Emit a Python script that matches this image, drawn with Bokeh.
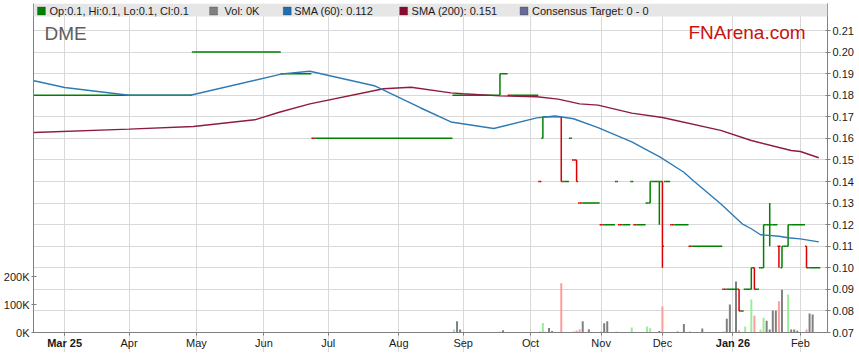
import numpy as np
from bokeh.plotting import figure
from bokeh.models import (Range1d, LinearAxis, FixedTicker, Label, BoxAnnotation,
                          ColumnDataSource, NumeralTickFormatter)
from bokeh.embed import file_html
from bokeh.resources import INLINE

# ---------------------------------------------------------------- data
stock_code = "DME"
brand_text = "FNArena.com"
legend_texts = ["Op:0.1, Hi:0.1, Lo:0.1, Cl:0.1", "Vol: 0K", "SMA (60): 0.112",
                "SMA (200): 0.151", "Consensus Target: 0 - 0"]

month_tick_dates = ["2025-03-03", "2025-04-01", "2025-05-01", "2025-06-02", "2025-07-01",
                    "2025-08-01", "2025-09-01", "2025-10-01", "2025-11-03", "2025-12-01",
                    "2026-01-01", "2026-02-02"]
month_tick_labels = ["Mar 25", "Apr", "May", "Jun", "Jul", "Aug", "Sep", "Oct", "Nov", "Dec",
                     "Jan 26", "Feb"]
bold_tick_labels = ["Mar 25", "Jan 26"]
price_ticks = [0.07, 0.08, 0.09, 0.10, 0.11, 0.12, 0.13, 0.14, 0.15, 0.16, 0.17, 0.18,
               0.19, 0.20, 0.21]
volume_ticks = [0, 100000, 200000]
volume_tick_labels = ["0K", "100K", "200K"]

# price blocks: one OHLC bar on blk_start, then flat at close until blk_end
blk_start = ["2025-02-17", "2025-04-30", "2025-06-10", "2025-06-11", "2025-06-24", "2025-06-25",
             "2025-08-27", "2025-09-17", "2025-09-18", "2025-09-22", "2025-09-23", "2025-10-06",
             "2025-10-07", "2025-10-08", "2025-10-15", "2025-10-16", "2025-10-20", "2025-10-21",
             "2025-10-22", "2025-10-23", "2025-10-24", "2025-11-03", "2025-11-04", "2025-11-10",
             "2025-11-11", "2025-11-12", "2025-11-17", "2025-11-18", "2025-11-19", "2025-11-24",
             "2025-11-25", "2025-11-26", "2025-11-28", "2025-12-01", "2025-12-02", "2025-12-04",
             "2025-12-05", "2025-12-12", "2025-12-15", "2025-12-29", "2025-12-30", "2026-01-05",
             "2026-01-06", "2026-01-07", "2026-01-09", "2026-01-12", "2026-01-13", "2026-01-14",
             "2026-01-15", "2026-01-16", "2026-01-19", "2026-01-20", "2026-01-22", "2026-01-23",
             "2026-01-26", "2026-01-27", "2026-01-28", "2026-02-04", "2026-02-05"]
blk_end = ["2025-04-29", "2025-06-09", "2025-06-10", "2025-06-23", "2025-06-24", "2025-08-26",
           "2025-09-16", "2025-09-17", "2025-09-19", "2025-09-22", "2025-10-03", "2025-10-06",
           "2025-10-07", "2025-10-14", "2025-10-15", "2025-10-17", "2025-10-20", "2025-10-21",
           "2025-10-22", "2025-10-23", "2025-10-31", "2025-11-03", "2025-11-07", "2025-11-10",
           "2025-11-11", "2025-11-14", "2025-11-17", "2025-11-18", "2025-11-21", "2025-11-24",
           "2025-11-25", "2025-11-27", "2025-11-28", "2025-12-01", "2025-12-03", "2025-12-04",
           "2025-12-11", "2025-12-12", "2025-12-26", "2025-12-29", "2026-01-02", "2026-01-05",
           "2026-01-06", "2026-01-08", "2026-01-09", "2026-01-12", "2026-01-13", "2026-01-14",
           "2026-01-15", "2026-01-16", "2026-01-19", "2026-01-21", "2026-01-22", "2026-01-23",
           "2026-01-26", "2026-01-27", "2026-02-03", "2026-02-04", "2026-02-10"]
blk_open = [0.18, 0.20, 0.19, 0.19, 0.16, 0.16, 0.18, 0.18, 0.19, 0.18, 0.18, 0.14,
            0.16, 0.17, 0.17, 0.14, 0.16, 0.15, 0.15, 0.13, 0.13, 0.12, 0.12, 0.14,
            0.12, 0.12, 0.14, 0.12, 0.12, 0.13, 0.13, 0.14, 0.14, 0.14, 0.14, 0.12,
            0.12, 0.11, 0.11, 0.09, 0.09, 0.09, 0.08, 0.09, 0.09, 0.10, 0.09, 0.10,
            0.10, 0.12, 0.12, 0.12, 0.11, 0.10, 0.11, 0.11, 0.12, 0.11, 0.10]
blk_high = [0.18, 0.20, 0.19, 0.19, 0.16, 0.16, 0.18, 0.19, 0.19, 0.18, 0.18, 0.14,
            0.17, 0.17, 0.17, 0.14, 0.16, 0.15, 0.15, 0.13, 0.13, 0.12, 0.12, 0.14,
            0.12, 0.12, 0.14, 0.12, 0.12, 0.13, 0.14, 0.14, 0.14, 0.14, 0.14, 0.12,
            0.12, 0.11, 0.11, 0.09, 0.09, 0.09, 0.08, 0.09, 0.10, 0.10, 0.09, 0.10,
            0.12, 0.12, 0.13, 0.12, 0.11, 0.11, 0.11, 0.12, 0.12, 0.11, 0.10]
blk_low = [0.18, 0.20, 0.19, 0.19, 0.16, 0.16, 0.18, 0.18, 0.19, 0.18, 0.18, 0.14,
           0.16, 0.17, 0.14, 0.14, 0.16, 0.15, 0.14, 0.13, 0.13, 0.12, 0.12, 0.14,
           0.12, 0.12, 0.14, 0.12, 0.12, 0.13, 0.13, 0.14, 0.12, 0.10, 0.14, 0.12,
           0.12, 0.11, 0.11, 0.09, 0.09, 0.08, 0.08, 0.09, 0.09, 0.09, 0.09, 0.10,
           0.10, 0.12, 0.11, 0.12, 0.10, 0.10, 0.11, 0.11, 0.12, 0.10, 0.10]
blk_close = [0.18, 0.20, 0.19, 0.19, 0.16, 0.16, 0.18, 0.19, 0.19, 0.18, 0.18, 0.14,
             0.17, 0.17, 0.14, 0.14, 0.16, 0.15, 0.14, 0.13, 0.13, 0.12, 0.12, 0.14,
             0.12, 0.12, 0.14, 0.12, 0.12, 0.13, 0.14, 0.14, 0.14, 0.11, 0.14, 0.12,
             0.12, 0.11, 0.11, 0.09, 0.09, 0.08, 0.08, 0.09, 0.10, 0.09, 0.09, 0.10,
             0.12, 0.12, 0.12, 0.12, 0.11, 0.11, 0.11, 0.12, 0.12, 0.10, 0.10]

vol_date = ["2025-05-08", "2025-05-13", "2025-07-07", "2025-08-27", "2025-08-28", "2025-08-29",
            "2025-09-17", "2025-09-18", "2025-10-06", "2025-10-07", "2025-10-09", "2025-10-10",
            "2025-10-15", "2025-10-21", "2025-10-22", "2025-10-23", "2025-10-24", "2025-10-28",
            "2025-11-03", "2025-11-04", "2025-11-05", "2025-11-10", "2025-11-17", "2025-11-24",
            "2025-11-25", "2025-11-28", "2025-12-01", "2025-12-08", "2025-12-10", "2025-12-12",
            "2025-12-18", "2025-12-29", "2025-12-30", "2025-12-31", "2026-01-02", "2026-01-05",
            "2026-01-07", "2026-01-09", "2026-01-12", "2026-01-14", "2026-01-15", "2026-01-16",
            "2026-01-19", "2026-01-20", "2026-01-21", "2026-01-22", "2026-01-23", "2026-01-27",
            "2026-01-28", "2026-01-29", "2026-01-30", "2026-02-04", "2026-02-05", "2026-02-06"]
vol_value = [2000, 2000, 2000, 11000, 40000, 11000, 4000, 8000, 4000, 34000, 16000, 5000,
             176000, 4000, 7000, 12000, 40000, 12000, 4000, 33000, 40000, 4000, 18000, 21000,
             15000, 5000, 93000, 4000, 30000, 4000, 14000, 4000, 49000, 100000, 182000, 8000,
             21000, 118000, 60000, 11000, 53000, 42000, 11000, 79000, 79000, 112000, 153000,
             136000, 11000, 11000, 6000, 11000, 68000, 64000]
vol_dir = ["flat", "flat", "flat", "up", "flat", "flat", "up", "flat", "down", "up", "flat",
           "flat", "down", "down", "down", "down", "flat", "flat", "down", "flat", "flat", "up",
           "up", "up", "up", "flat", "down", "flat", "flat", "down", "flat", "down", "flat",
           "flat", "flat", "down", "up", "up", "down", "up", "up", "flat", "flat", "flat",
           "flat", "down", "flat", "up", "flat", "flat", "flat", "down", "flat", "flat"]

sma60_date = ["2025-02-17", "2025-03-03", "2025-04-01", "2025-04-29", "2025-06-10", "2025-06-23",
              "2025-07-22", "2025-08-12", "2025-08-26", "2025-09-15", "2025-10-03", "2025-10-13",
              "2025-10-21", "2025-10-31", "2025-11-17", "2025-11-24", "2025-11-28", "2025-12-10",
              "2025-12-15", "2025-12-26", "2026-01-06", "2026-01-09", "2026-01-14", "2026-01-22",
              "2026-01-27", "2026-02-02", "2026-02-10"]
sma60_value = [0.1867, 0.1836, 0.1800, 0.1800, 0.1899, 0.1911, 0.1844, 0.1742, 0.1676, 0.1646,
               0.1695, 0.1704, 0.1691, 0.1650, 0.1584, 0.1546, 0.1515, 0.1443, 0.1405, 0.1297,
               0.1204, 0.1181, 0.1153, 0.1146, 0.1139, 0.1134, 0.1120]

sma200_date = ["2025-02-17", "2025-04-01", "2025-04-30", "2025-05-28", "2025-06-09", "2025-06-23",
               "2025-07-25", "2025-08-07", "2025-08-26", "2025-09-01", "2025-09-17", "2025-10-03",
               "2025-10-14", "2025-10-23", "2025-10-31", "2025-11-17", "2025-12-01", "2025-12-26",
               "2026-01-09", "2026-01-28", "2026-02-02", "2026-02-10"]
sma200_value = [0.1627, 0.1643, 0.1655, 0.1686, 0.1721, 0.1760, 0.1830, 0.1837, 0.1811, 0.1807,
                0.1797, 0.1793, 0.1782, 0.1760, 0.1754, 0.1717, 0.1697, 0.1637, 0.1590, 0.1544,
                0.1539, 0.1510]

# ---------------------------------------------------------------- layout / style
X_ORIGIN = "2025-03-03"          # trading-day axis origin (weekday count)
W, H = 856, 360
BL, BR, BT, BB = 31, 27, 3, 8    # frame reaches below the price baseline to hold x labels
FL, FR = BL, W - BR
FT, FBF = BT, H - BB             # frame top / frame bottom (page px)
BASE_Y = 332                     # page y of the 0.07 / 0K baseline
PX_PER_DAY = 3.081
FIRST_TICK_X = 62.3
PX_PER_PRICE = 2157.0
PX_PER_100K = 28.0

P0 = price_ticks[0]
X_START = -(FIRST_TICK_X - FL) / PX_PER_DAY
X_END = X_START + (FR - FL) / PX_PER_DAY
Y_START = P0 - (FBF - BASE_Y) / PX_PER_PRICE
Y_END = P0 + (BASE_Y - FT) / PX_PER_PRICE
VOL_START = -(FBF - BASE_Y) / PX_PER_100K * 100000
VOL_END = (BASE_Y - FT) / PX_PER_100K * 100000

GREEN, RED = "#008000", "#dd0000"
VOL_COL = {"up": "#98ee98", "down": "#ff9c9c", "flat": "#808080"}
SMA60_COL, SMA200_COL = "#2c7bb6", "#8c1d40"
FONT = "Liberation Sans"
TXT = "#1a1a1a"
AXIS_COL = "#808080"


def tday(dates):
    return np.busday_count(np.datetime64(X_ORIGIN),
                           np.array(dates, dtype="datetime64[D]")).astype(float)


def px_x(page_x):
    return X_START + (page_x - FL) / PX_PER_DAY


def px_y(page_y):
    return P0 + (BASE_Y - page_y) / PX_PER_PRICE


p = figure(width=W, height=H, output_backend="svg", toolbar_location=None,
           x_range=Range1d(X_START, X_END), y_range=Range1d(Y_START, Y_END),
           y_axis_location="right", min_border_left=BL, min_border_right=BR,
           min_border_top=BT, min_border_bottom=BB,
           background_fill_color="white", border_fill_color="white")
p.outline_line_color = None
p.extra_y_ranges = {"vol": Range1d(VOL_START, VOL_END)}

# grids
tick_x = [int(t) for t in tday(month_tick_dates)]
p.xgrid.ticker = FixedTicker(ticks=tick_x, minor_ticks=[])
p.xgrid.bounds = (P0, Y_END)
p.ygrid.ticker = FixedTicker(ticks=price_ticks, minor_ticks=[])
for g in (p.xgrid, p.ygrid):
    g.grid_line_color = "#d9d9d9"
    g.grid_line_width = 1

# x axis (regular month labels), pinned at the price baseline
xa = p.xaxis[0]
xa.ticker = FixedTicker(ticks=tick_x, minor_ticks=[])
xa.major_label_overrides = {t: ("" if lab in bold_tick_labels else lab)
                            for t, lab in zip(tick_x, month_tick_labels)}
xa.fixed_location = P0

# second x axis with the bold year labels
bold_ticks = [t for t, lab in zip(tick_x, month_tick_labels) if lab in bold_tick_labels]
xb = LinearAxis(ticker=FixedTicker(ticks=bold_ticks, minor_ticks=[]),
                major_label_overrides={t: lab for t, lab in zip(tick_x, month_tick_labels)
                                       if lab in bold_tick_labels},
                fixed_location=P0)
xb.axis_line_color = None
xb.major_label_text_font_style = "bold"
p.add_layout(xb, "below")

for ax in (xa, xb):
    ax.major_tick_out = 3
    ax.major_tick_in = 0
    ax.major_label_standoff = 1

# right price axis
ya = p.yaxis[0]
ya.ticker = FixedTicker(ticks=price_ticks, minor_ticks=[])
ya.formatter = NumeralTickFormatter(format="0.00")
ya.bounds = (P0, Y_END)
ya.major_tick_out = 3
ya.major_tick_in = 2
ya.major_label_standoff = 2

# left volume axis
va = LinearAxis(y_range_name="vol", ticker=FixedTicker(ticks=volume_ticks, minor_ticks=[]),
                major_label_overrides=dict(zip(volume_ticks, volume_tick_labels)),
                bounds=(0, VOL_END))
va.major_tick_out = 2
va.major_tick_in = 3
va.major_label_standoff = 2
p.add_layout(va, "left")

for ax in (xa, xb, ya, va):
    ax.minor_tick_line_color = None
    ax.major_label_text_font = FONT
    ax.major_label_text_font_size = "11px"
    ax.major_label_text_color = TXT
    ax.major_tick_line_color = AXIS_COL
for ax in (xa, ya, va):
    ax.axis_line_color = AXIS_COL

# volume bars
vsrc = ColumnDataSource(dict(x=tday(vol_date), top=vol_value,
                             color=[VOL_COL[d] for d in vol_dir]))
p.vbar(x="x", top="top", bottom=0, width=0.65, source=vsrc, y_range_name="vol",
       fill_color="color", line_color=None)

# price OHLC blocks
bx0 = tday(blk_start)
bx1 = tday(blk_end)
prev_close = [blk_close[0]] + blk_close[:-1]
bcol = [RED if c < pc else GREEN for c, pc in zip(blk_close, prev_close)]
psrc = ColumnDataSource(dict(x0=bx0, x1=bx1, xl=bx0 - 0.5, xr=bx1 + 0.5,
                             o=blk_open, h=blk_high, l=blk_low, c=blk_close, col=bcol))
p.segment(x0="xl", y0="o", x1="x0", y1="o", source=psrc, line_color="col", line_width=1.5)
p.segment(x0="x0", y0="l", x1="x0", y1="h", source=psrc, line_color="col", line_width=1.5)
p.segment(x0="x0", y0="c", x1="xr", y1="c", source=psrc, line_color="col", line_width=1.5)

# moving averages
p.line(tday(sma200_date), sma200_value, line_color=SMA200_COL, line_width=1.4)
p.line(tday(sma60_date), sma60_value, line_color=SMA60_COL, line_width=1.4)

# legend band
band_h = 13
p.add_layout(BoxAnnotation(top=Y_END, bottom=px_y(FT + band_h), fill_color="#e6e6e6",
                           fill_alpha=1.0, line_color=None))
legend_sq_x = [35, 208, 282, 399, 520]
legend_txt_x = [47, 223, 293, 411, 532]
legend_col = [GREEN, "#808080", "#1f6fae", "#8b0a30", "#6a6a98"]
for sx, tx, col, txt in zip(legend_sq_x, legend_txt_x, legend_col, legend_texts):
    p.add_layout(BoxAnnotation(left=px_x(sx), right=px_x(sx + 8), top=px_y(FT + 3.5),
                               bottom=px_y(FT + 11.5), fill_color=col, fill_alpha=1.0,
                               line_color="#333333", line_width=1))
    p.add_layout(Label(x=px_x(tx), y=px_y(FT + 7), text=txt, text_font=FONT,
                       text_font_size="11px", text_color=TXT, text_baseline="middle"))

# titles
p.add_layout(Label(x=px_x(42), y=px_y(32.5), text=stock_code, text_font=FONT,
                   text_font_size="19px", text_color="#5e5e5e", text_baseline="middle"))
p.add_layout(Label(x=px_x(807), y=px_y(31.5), text=brand_text, text_font=FONT,
                   text_font_size="19px", text_color="#cc1111", text_baseline="middle",
                   text_align="right"))

open("out.html", "w").write(file_html(p, INLINE))
